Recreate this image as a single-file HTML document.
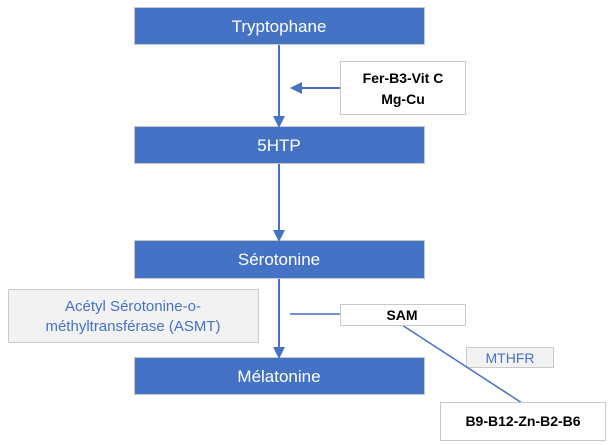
<!DOCTYPE html>
<html><head><meta charset="utf-8"><style>
body{margin:0;width:610px;height:445px;background:#fff;overflow:hidden;font-family:"Liberation Sans",sans-serif}
svg{display:block}
</style></head><body>
<svg width="610" height="445" xmlns="http://www.w3.org/2000/svg">
<defs><marker id="a" markerWidth="12" markerHeight="12" refX="10" refY="6" orient="auto" markerUnits="userSpaceOnUse"><path d="M0,0 L12,6 L0,12 z" fill="#4472c4"/></marker></defs>
<g fill="#4472c4" stroke="#c9c9c9" stroke-width="1">
<rect x="134.5" y="7.5" width="290" height="37"/>
<rect x="134.5" y="126.5" width="290" height="37"/>
<rect x="134.5" y="240.5" width="290" height="38"/>
<rect x="134.5" y="357.5" width="290" height="37"/>
</g>
<g fill="#fff" font-size="17" text-anchor="middle">
<text x="279" y="32">Tryptophane</text>
<text x="279" y="151">5HTP</text>
<text x="279" y="265">Sérotonine</text>
<text x="279" y="382">Mélatonine</text>
</g>
<rect x="466.5" y="347.5" width="87" height="20" fill="#f2f2f2" stroke="#c9c9c9"/>
<text x="510" y="363" font-size="14" fill="#4472c4" text-anchor="middle">MTHFR</text>
<g stroke="#4472c4" stroke-width="2" fill="none">
<line x1="279" y1="45" x2="279" y2="126" marker-end="url(#a)"/>
<line x1="279" y1="164" x2="279" y2="240" marker-end="url(#a)"/>
<line x1="279" y1="279" x2="279" y2="357" marker-end="url(#a)"/>
<line x1="340" y1="88" x2="292" y2="88" marker-end="url(#a)"/>
<line x1="290" y1="314" x2="340" y2="314" stroke-width="1.5"/>
<line x1="402" y1="325" x2="522" y2="403" stroke-width="1.5"/>
</g>
<rect x="340.5" y="61.5" width="125" height="53" fill="#fff" stroke="#c9c9c9"/>
<text x="403" y="83" font-size="14" font-weight="bold" text-anchor="middle">Fer-B3-Vit C</text>
<text x="403" y="104" font-size="14" font-weight="bold" text-anchor="middle">Mg-Cu</text>
<rect x="8.5" y="289.5" width="250" height="53" fill="#f2f2f2" stroke="#c9c9c9"/>
<text x="133" y="311" font-size="15" fill="#4472c4" text-anchor="middle">Acétyl Sérotonine-o-</text>
<text x="133" y="331" font-size="15" fill="#4472c4" text-anchor="middle">méthyltransférase (ASMT)</text>
<rect x="340.5" y="304.5" width="125" height="21" fill="#fff" stroke="#c9c9c9"/>
<text x="402" y="320" font-size="14" font-weight="bold" text-anchor="middle">SAM</text>
<rect x="440.5" y="402.5" width="165" height="38" fill="#fff" stroke="#c9c9c9"/>
<text x="523" y="426" font-size="14" font-weight="bold" text-anchor="middle">B9-B12-Zn-B2-B6</text>
</svg>
</body></html>
